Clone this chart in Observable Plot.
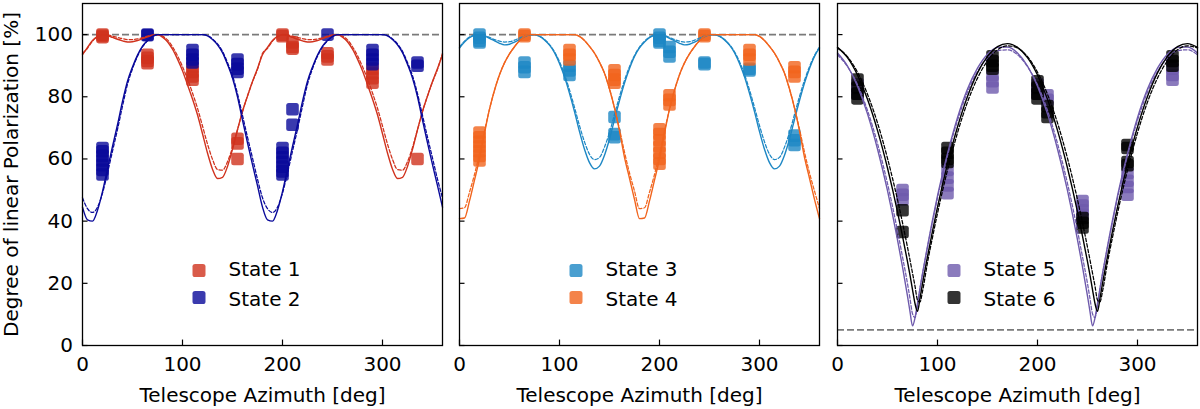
<!DOCTYPE html>
<html>
<head>
<meta charset="utf-8">
<script src="https://cdn.jsdelivr.net/npm/d3@7"></script>
<script src="https://cdn.jsdelivr.net/npm/@observablehq/plot@0.6"></script>
<style>
  body { margin: 0; background: #fff; }
  #chart { position: relative; width: 1200px; height: 409px; font-family: "DejaVu Sans", sans-serif; }
  #chart svg { position: absolute; top: 0; }
</style>
</head>
<body>
<div id="chart"></div>
<script>
// azimuth grids of the fitted curves
const az5 = [0,5,10,15,20,25,30,35,40,45,50,55,60,65,70,75,80,85,90,95,100,105,110,115,120,125,130,135,140,145,150,155,160,165,170,175,
  180,185,190,195,200,205,210,215,220,225,230,235,240,245,250,255,260,265,270,275,280,285,290,295,300,305,310,315,320,325,330,335,340,345,350,355,360];
const azP3 = [0,10,20,30,40,50,55,60,65,70,72.5,75,77.5,80,82.5,85,90,95,100,105,110,120,130,140,150,160,170,
  180,190,200,210,220,230,235,240,245,250,252.5,255,257.5,260,262.5,265,270,275,280,285,290,300,310,320,330,340,350,360];

// fits, panel 1
const fit1 = [93.5,95.9,98.1,99.4,100,99.7,99.1,98.5,98.0,97.6,97.7,98.1,98.7,99.3,99.8,100,99.2,97.7,95.3,92.1,88.4,83.9,79.3,74.2,68.1,61.9,56.7,53.7,54.1,57.6,63.1,69.4,75.3,80.2,84.9,89.1,
  93.5,95.9,98.1,99.4,100,99.7,99.1,98.5,98.0,97.6,97.7,98.1,98.7,99.3,99.8,100,99.2,97.7,95.3,92.1,88.4,83.9,79.3,74.2,68.1,61.9,56.7,53.7,54.1,57.6,63.1,69.4,75.3,80.2,84.9,89.1,93.5];
const fit1d = [94.0,95.6,97.9,99.3,99.9,99.9,99.5,99.1,98.7,98.4,98.4,98.6,99.0,99.5,99.8,99.9,99.5,98.3,96.1,93.2,89.7,85.7,81.2,76.3,70.6,64.8,59.9,56.6,56.4,59.1,63.7,69.4,75.2,80.3,84.8,88.8,
  94.0,95.6,97.9,99.3,99.9,99.9,99.5,99.1,98.7,98.4,98.4,98.6,99.0,99.5,99.8,99.9,99.5,98.3,96.1,93.2,89.7,85.7,81.2,76.3,70.6,64.8,59.9,56.6,56.4,59.1,63.7,69.4,75.2,80.3,84.8,88.8,94.0];
const fit2 = [44.5,40.4,40.0,43.5,49.5,56.8,64.0,71.0,78.5,85.0,89.6,93.4,96.3,98.1,99.4,100,100,100,100,100,100,100,100,100,100,99.6,98.4,96.7,94.2,90.4,86.0,80.0,72.5,65.2,58.2,51.4,
  44.5,40.4,40.0,43.5,49.5,56.8,64.0,71.0,78.5,85.0,89.6,93.4,96.3,98.1,99.4,100,100,100,100,100,100,100,100,100,100,99.6,98.4,96.7,94.2,90.4,86.0,80.0,72.5,65.2,58.2,51.4,44.5];
const fit2d = [47.5,44.0,42.8,44.5,49.0,55.5,62.5,69.5,77.0,84.0,89.0,93.0,96.0,98.0,99.3,100,100,100,100,100,100,100,100,100,100,99.7,98.6,97.0,94.6,91.0,86.8,81.0,74.0,67.0,60.3,53.5,
  47.5,44.0,42.8,44.5,49.0,55.5,62.5,69.5,77.0,84.0,89.0,93.0,96.0,98.0,99.3,100,100,100,100,100,100,100,100,100,100,99.7,98.6,97.0,94.6,91.0,86.8,81.0,74.0,67.0,60.3,53.5,47.5];

// fits, panel 2
const fit3 = [95.7,97.6,99.0,99.8,100,99.5,98.8,98.0,97.2,96.7,96.9,97.6,98.4,99.3,99.9,100,99.4,98.3,96.6,94.2,90.7,86.4,81.1,75.2,68.8,63.1,58.8,56.8,57.7,61.2,66.4,72.7,78.8,84.4,89.1,93.0,
  95.7,97.6,99.0,99.8,100,99.5,98.8,98.0,97.2,96.7,96.9,97.6,98.4,99.3,99.9,100,99.4,98.3,96.6,94.2,90.7,86.4,81.1,75.2,68.8,63.1,58.8,56.8,57.7,61.2,66.4,72.7,78.8,84.4,89.1,93.0,95.7];
const fit3d = [96.0,97.9,99.2,99.8,100,99.7,99.1,98.4,97.9,97.6,97.7,98.2,98.9,99.5,99.9,99.9,99.5,98.4,96.8,94.5,91.3,87.2,82.2,76.6,70.7,65.5,61.5,59.8,60.5,63.8,68.5,74.3,80.1,85.3,89.7,93.3,
  96.0,97.9,99.2,99.8,100,99.7,99.1,98.4,97.9,97.6,97.7,98.2,98.9,99.5,99.9,99.9,99.5,98.4,96.8,94.5,91.3,87.2,82.2,76.6,70.7,65.5,61.5,59.8,60.5,63.8,68.5,74.3,80.1,85.3,89.7,93.3,96.0];
const fit4 = [40.8,41.0,46.5,53.2,60.0,68.3,76.0,82.1,87.1,90.9,93.8,96.1,98.0,99.4,100,100,100,100,100,100,100,100,100,100,99.4,98.1,96.2,94.0,91.1,87.6,82.5,76.4,69.0,60.5,53.8,47.0,
  40.8,41.0,46.5,53.2,60.0,68.3,76.0,82.1,87.1,90.9,93.8,96.1,98.0,99.4,100,100,100,100,100,100,100,100,100,100,99.4,98.1,96.2,94.0,91.1,87.6,82.5,76.4,69.0,60.5,53.8,47.0,40.8];
const fit4d = [44.0,44.3,49.3,55.0,61.7,69.0,76.0,82.1,87.1,90.9,93.8,96.1,98.0,99.4,100,100,100,100,100,100,100,100,100,100,99.4,98.1,96.2,94.0,91.1,87.6,82.5,76.4,69.6,62.2,55.5,49.7,
  44.0,44.3,49.3,55.0,61.7,69.0,76.0,82.1,87.1,90.9,93.8,96.1,98.0,99.4,100,100,100,100,100,100,100,100,100,100,99.4,98.1,96.2,94.0,91.1,87.6,82.5,76.4,69.6,62.2,55.5,49.7,44.0];

// fits, panel 3
const fit5 = [94.1,89.9,83.4,74.5,63.2,49.8,42.2,34.0,25.3,15.9,10.9,6.3,8.9,13.6,18.4,23.1,31.9,40.3,48.1,55.2,61.7,73.3,82.5,89.2,93.7,95.9,96.0,
  94.1,89.9,83.4,74.5,63.2,49.8,42.2,34.0,25.3,15.9,10.9,6.3,8.9,13.6,18.4,23.1,31.9,40.3,48.1,55.2,61.7,73.3,82.5,89.2,93.7,95.9,96.0,94.1];
const fit5d = [93.5,89.7,83.9,75.6,65.0,52.1,44.8,36.9,28.5,19.9,15.1,10.2,9.0,12.8,18.4,22.9,31.6,39.8,47.5,54.6,61.1,72.4,81.5,88.1,92.5,94.8,95.1,
  93.5,89.7,83.9,75.6,65.0,52.1,44.8,36.9,28.5,19.9,15.1,10.2,9.0,12.8,18.4,22.9,31.6,39.8,47.5,54.6,61.1,72.4,81.5,88.1,92.5,94.8,95.1,93.5];
const fit6 = [95.9,92.6,87.0,79.2,69.2,57.1,50.3,43.0,35.2,27.0,22.6,18.0,13.5,11.0,15.2,19.9,28.6,36.8,44.5,51.7,58.4,70.3,80.1,87.7,93.0,96.1,97.1,
  95.9,92.6,87.0,79.2,69.2,57.1,50.3,43.0,35.2,27.0,22.6,18.0,13.5,11.0,15.2,19.9,28.6,36.8,44.5,51.7,58.4,70.3,80.1,87.7,93.0,96.1,97.1,95.9];
const fit6d = [95.7,92.9,87.9,80.8,71.6,60.2,53.8,46.9,39.5,31.6,27.5,23.3,19.1,14.6,14.0,17.4,26.7,34.8,42.5,49.7,56.4,68.4,78.3,86.0,91.6,95.1,96.4,
  95.7,92.9,87.9,80.8,71.6,60.2,53.8,46.9,39.5,31.6,27.5,23.3,19.1,14.6,14.0,17.4,26.7,34.8,42.5,49.7,56.4,68.4,78.3,86.0,91.6,95.1,96.4,95.7];

// measurements: [azimuth, [degree of polarization ...]]
const pts1 = [[20,[100,99.6,99.2]],[65,[93.5,92.5,91.5,90.8]],[110,[89.5,88,86.5,85.5]],[155,[66.5,65,60]],[200,[100,99.5]],
  [210,[97.5,96,95.5]],[245,[94,93,92]],[290,[89,87.5,86,84.5]],[335,[60]]];
const pts2 = [[20,[63.5,62.5,61,59.5,58,56.5,55]],[65,[100,99.8]],[110,[95,93.5,92,91]],[155,[92,90.5,89,88]],[200,[63.5,62,60.5,59,57.5,56,55]],
  [210,[76,71]],[245,[100]],[290,[95,93.5,92,90.5]],[335,[91,90]]];
const pts3 = [[20,[100,99,98,97.5]],[65,[91,89.5,88]],[110,[90,88.5,87]],[155,[73.5,68,67]],[200,[100,99,98,97.5]],
  [210,[96,94.5,93]],[245,[91,90.5]],[290,[89,88.5]],[335,[67.5,66,64.5]]];
const pts4 = [[20,[68.5,67,65.5,64,62.5,61,59.5]],[65,[100,99.5]],[110,[95,93.5,92]],[155,[88.5,87,85.5,84.5]],[200,[69.5,68,66,64,62,60,58.5]],
  [210,[80.5,79,77.5]],[245,[100,99.5]],[290,[95,93.5,92]],[335,[89.5,88,86.5]]];
const pts5 = [[20,[84,82.5,81]],[65,[50,48.5,47]],[110,[56.5,54,51.5,49]],[155,[87,85,83]],[200,[84,82.5,81]],
  [210,[80.5,79]],[245,[46.5,45,43.5,42]],[290,[55.5,53,51,48.5]],[335,[89,87,85.5]]];
const pts6 = [[20,[85.5,83,81,79.5]],[65,[43.5,36.5]],[110,[63.5,62,60,59]],[155,[93,91.5,90,89]],[200,[85,83,81,79.5]],
  [210,[77,75,73.5]],[245,[41,39.5,38]],[290,[64.5,63.5,59,58]],[335,[93,91.5,90]]];

const xTicks = [0, 100, 200, 300];
const yTicks = [0, 20, 40, 60, 80, 100];

const states = [
  {name: "State 1", color: "#d0321d", fit: fit1, fitd: fit1d, az: az5, pts: pts1},
  {name: "State 2", color: "#09099a", fit: fit2, fitd: fit2d, az: az5, pts: pts2},
  {name: "State 3", color: "#1d87c4", fit: fit3, fitd: fit3d, az: az5, pts: pts3},
  {name: "State 4", color: "#f1641d", fit: fit4, fitd: fit4d, az: az5, pts: pts4},
  {name: "State 5", color: "#6e5aac", fit: fit5, fitd: fit5d, az: azP3, pts: pts5},
  {name: "State 6", color: "#000000", fit: fit6, fitd: fit6d, az: azP3, pts: pts6}
];

// rounded square marker
const roundSquare = {
  draw(ctx, size) {
    const h = Math.sqrt(size / Math.PI), c = h * 0.4;
    ctx.moveTo(-h + c, -h);
    ctx.lineTo(h - c, -h);
    ctx.arcTo(h, -h, h, -h + c, c);
    ctx.lineTo(h, h - c);
    ctx.arcTo(h, h, h - c, h, c);
    ctx.lineTo(-h + c, h);
    ctx.arcTo(-h, h, -h, h - c, c);
    ctx.lineTo(-h, -h + c);
    ctx.arcTo(-h, -h, -h + c, -h, c);
    ctx.closePath();
  }
};

const rows = (az, vals) => az.map((a, i) => ({az: a, v: vals[i]}));
const flat = pts => pts.flatMap(([a, vs]) => vs.map(v => ({az: a, v})));

function panel(pair, {left, width, mL, mR, refY, yLabels}) {
  const marks = [Plot.ruleY([refY], {stroke: "#7a7a7a", strokeWidth: 1.8, strokeDasharray: "7,3"})];
  for (const s of pair) {
    marks.push(Plot.dot(flat(s.pts), {x: "az", y: "v", symbol: roundSquare, r: 6.3, fill: s.color, fillOpacity: 0.8}));
  }
  for (const s of pair) {
    marks.push(Plot.line(rows(s.az, s.fit), {x: "az", y: "v", stroke: s.color, strokeWidth: 1.4, curve: "monotone-x"}));
    marks.push(Plot.line(rows(s.az, s.fitd), {x: "az", y: "v", stroke: s.color, strokeWidth: 1.25, strokeDasharray: "3.5,2", curve: "monotone-x"}));
  }
  // inward ticks
  marks.push(Plot.ruleY(yTicks, {x1: 0, x2: 5.5, stroke: "black", strokeWidth: 1.2}));
  marks.push(Plot.ruleX(xTicks, {y1: 0, y2: 1.75, stroke: "black", strokeWidth: 1.2}));
  marks.push(Plot.frame({stroke: "black", strokeWidth: 1.3}));
  marks.push(Plot.axisX(xTicks, {tickSize: 0, tickPadding: 11, fontSize: 20, label: null}));
  marks.push(Plot.text(["Telescope Azimuth [deg]"], {text: d => d, frameAnchor: "bottom", dy: 50, fontSize: 20, lineAnchor: "middle"}));
  if (yLabels) {
    marks.push(Plot.axisY(yTicks, {tickSize: 0, tickPadding: 9.5, fontSize: 20, label: null}));
    marks.push(Plot.text(["Degree of linear Polarization [%]"], {text: d => d, frameAnchor: "left", dx: -71, rotate: -90, fontSize: 20, textAnchor: "middle", lineAnchor: "middle"}));
  }
  // legend
  pair.forEach((s, i) => {
    marks.push(Plot.dot([s.name], {frameAnchor: "top-left", dx: 116.5, dy: 267 + i * 27, symbol: roundSquare, r: 6.5, fill: s.color, fillOpacity: 0.8}));
    marks.push(Plot.text([s.name], {text: d => d, frameAnchor: "top-left", dx: 146, dy: 266 + i * 30, textAnchor: "start", lineAnchor: "middle", fontSize: 20}));
  });

  const chart = Plot.plot({
    width, height: 409,
    marginLeft: mL, marginRight: mR, marginTop: 3, marginBottom: 64,
    x: {domain: [0, 360], axis: null},
    y: {domain: [0, 110], axis: null},
    style: {fontFamily: "DejaVu Sans", fontSize: "20px", color: "black", background: "transparent", overflow: "visible"},
    marks
  });
  chart.style.left = left + "px";
  d3.select("#chart").append(() => chart);
}

panel([states[0], states[1]], {left: 0, width: 445, mL: 82, mR: 3, refY: 100, yLabels: true});
panel([states[2], states[3]], {left: 456, width: 367, mL: 3, mR: 4, refY: 100, yLabels: false});
panel([states[4], states[5]], {left: 834, width: 366, mL: 3, mR: 3, refY: 5, yLabels: false});
</script>
</body>
</html>
